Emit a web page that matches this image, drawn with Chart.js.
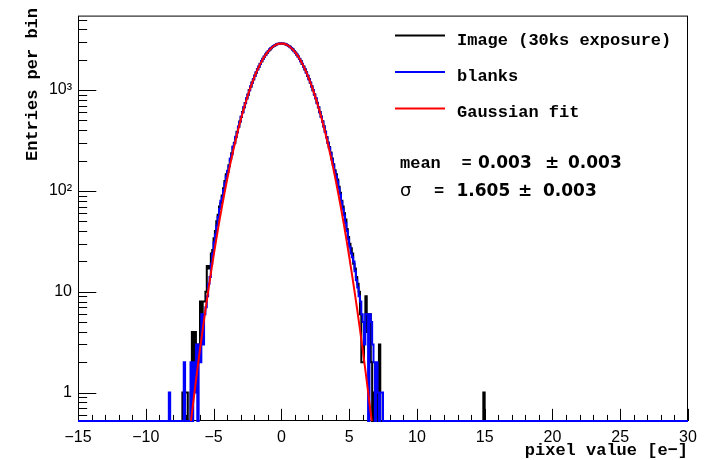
<!DOCTYPE html>
<html>
<head>
<meta charset="utf-8">
<script src="https://cdn.jsdelivr.net/npm/chart.js@4"></script>
<style>
  html, body { margin: 0; padding: 0; background: #ffffff; }
  #wrap { width: 720px; height: 460px; }
</style>
</head>
<body>
<div id="wrap"><canvas id="c" width="720" height="460"></canvas></div>
<script>
// ---------------- data ----------------
const binWidth = 0.1;
const histMin = -15;
const histMax = 30;
const coreStart = -7.5;   // lower edge of first listed bin

// Image (30ks exposure), bins from -7.5 to 7.7
const imageCounts = [
  0,0,1,0,1,1,0,0,1,4,2,4,3,2,3,8,5,8,8,10,18,17,18,24,26,
  34,40,50,58,70,76,90,106,125,146,154,180,206,236,272,300,340,386,432,488,
  540,605,672,745,826,900,1000,1080,1190,1275,1395,1485,1610,1700,1825,1920,2045,2135,2250,2335,
  2440,2515,2610,2665,2740,2780,2840,2860,2895,2890,
  2895,2880,2870,2825,2795,2730,2680,2595,2530,2430,2350,2240,2150,2030,1935,1810,1715,1595,1500,1380,
  1290,1180,1090,990,910,825,748,672,606,545,490,438,388,342,302,272,240,210,184,160,
  146,130,110,96,80,70,60,52,42,35,
  30,27,24,19,17,14,12,10,6,2,2,5,9,4,6,6,2,0,1,0,0,1,3,0,0,0,0
];
const imageExtraX = [14.9];
const imageExtraCounts = [1];

// blanks, bins from -7.5 to 7.7
const blanksCounts = [
  0,0,0,2,0,0,0,0,2,0,2,1,3,0,3,2,6,3,6,7,9,12,14,19,24,
  31,37,45,55,66,80,86,102,120,140,158,176,210,230,276,296,345,380,436,484,
  546,600,678,740,830,905,990,1090,1180,1290,1380,1500,1595,1715,1810,1935,2030,2150,2240,2350,
  2430,2530,2595,2680,2730,2795,2825,2870,2880,2905,
  2900,2890,2860,2840,2780,2740,2665,2610,2515,2440,2335,2250,2135,2045,1920,1825,1700,1610,1485,1395,
  1275,1190,1080,1000,900,832,740,680,598,540,484,432,384,338,298,268,236,205,180,156,
  140,124,106,92,78,66,57,48,40,33,
  28,24,22,20,16,13,11,9,8,6,5,3,6,6,0,6,5,3,2,0,2,1,0,1,1,0,0
];
const blanksExtraX = [-8.3];
const blanksExtraCounts = [1];

// Gaussian fit curve
const fitX = [-7.0,-6.8,-6.6,-6.4,-6.2,-6.0,-5.8,-5.6,-5.4,-5.2,-5.0,-4.8,-4.6,-4.4,-4.2,-4.0,-3.8,-3.6,-3.4,-3.2,
  -3.0,-2.8,-2.6,-2.4,-2.2,-2.0,-1.8,-1.6,-1.4,-1.2,-1.0,-0.8,-0.6,-0.4,-0.2,0,
  0.2,0.4,0.6,0.8,1.0,1.2,1.4,1.6,1.8,2.0,2.2,2.4,2.6,2.8,3.0,3.2,3.4,3.6,3.8,4.0,
  4.2,4.4,4.6,4.8,5.0,5.2,5.4,5.6,5.8,6.0,6.2,6.4,6.6,6.8,7.0];
const fitY = [0.216,0.37,0.62,1.02,1.67,2.68,4.23,6.59,10.1,15.2,22.6,33.1,47.6,67.6,94.3,129.6,176,234,306,397,
  505,633,780,948,1134,1337,1547,1765,1981,2193,2389,2561,2704,2811,2878,2900,
  2878,2811,2704,2561,2389,2193,1981,1765,1547,1337,1134,948,780,633,505,397,306,234,176,129.6,
  94.3,67.6,47.6,33.1,22.6,15.2,10.1,6.59,4.23,2.68,1.67,1.02,0.62,0.37,0.216];

// axes
const yMin = 0.523;
const yMax = 5470;
const yTickValues = [1, 10, 100, 1000];
const yTickLabels = ['1', '10', '10\u00B2', '10\u00B3'];
const xTickValues = [-15, -10, -5, 0, 5, 10, 15, 20, 25, 30];
const xTickLabels = ['\u221215', '\u221210', '\u22125', '0', '5', '10', '15', '20', '25', '30'];

const legendLabels = ['Image (30ks exposure)', 'blanks', 'Gaussian fit'];
const statsMean = ['0.003', '0.003'];
const statsSigma = ['1.605', '0.003'];

// ---------------- build ----------------
function buildHist(core, extraX, extraC) {
  const n = Math.round((histMax - histMin) / binWidth);
  const counts = new Array(n).fill(0);
  const off = Math.round((coreStart - histMin) / binWidth);
  core.forEach((c, i) => { counts[off + i] = c; });
  extraX.forEach((x, j) => { counts[Math.round((x - histMin) / binWidth)] = extraC[j]; });
  const pts = counts.map((c, i) => ({ x: histMin + i * binWidth, y: Math.max(c, yMin) }));
  pts.push({ x: histMax, y: Math.max(counts[n - 1], yMin) });
  return pts;
}

const FRAME = { left: 78, right: 688, top: 7, bottom: 421 };

const rootPlugin = {
  id: 'rootStyle',
  beforeDatasetsDraw(chart) {
    const ctx = chart.ctx;
    const a = chart.chartArea;
    const xs = chart.scales.x, ys = chart.scales.y;
    ctx.save();
    ctx.strokeStyle = '#000';
    ctx.lineWidth = 1;
    ctx.strokeRect(a.left + 0.5, a.top + 0.5, a.right - a.left - 1, a.bottom - a.top - 1);
    ctx.beginPath();
    // x ticks
    const xMajorLen = 0.03 * (a.bottom - a.top);
    for (let v = histMin; v <= histMax + 1e-9; v += 1) {
      const px = Math.round(xs.getPixelForValue(v)) + 0.5;
      const len = (Math.abs(v % 5) < 1e-9) ? xMajorLen : xMajorLen / 2;
      ctx.moveTo(px, a.bottom);
      ctx.lineTo(px, a.bottom - len);
    }
    // y ticks
    const yMajorLen = 0.03 * (a.right - a.left);
    for (let d = -1; d <= 3; d++) {
      for (let k = 1; k <= 9; k++) {
        const v = k * Math.pow(10, d);
        if (v < yMin || v > yMax) continue;
        const py = Math.round(ys.getPixelForValue(v)) + 0.5;
        const len = (k === 1) ? yMajorLen : yMajorLen / 2;
        ctx.moveTo(a.left, py);
        ctx.lineTo(a.left + len, py);
      }
    }
    ctx.stroke();
    ctx.restore();
  },
  afterDraw(chart) {
    const ctx = chart.ctx;
    ctx.save();
    ctx.fillStyle = '#000';
    // axis titles
    ctx.font = 'bold 17px "Liberation Mono"';
    ctx.textAlign = 'right';
    ctx.textBaseline = 'middle';
    ctx.fillText('pixel value [e\u2212]', 688, 451);
    ctx.save();
    ctx.translate(33, 8);
    ctx.rotate(-Math.PI / 2);
    ctx.textAlign = 'right';
    ctx.textBaseline = 'middle';
    ctx.fillText('Entries per bin', 0, 0);
    ctx.restore();

    // legend
    const colors = ['#000000', '#0000ff', '#ff0000'];
    const lineY = [35.5, 72, 108.5];
    const textY = [45, 81, 117];
    ctx.textAlign = 'left';
    ctx.textBaseline = 'alphabetic';
    for (let i = 0; i < 3; i++) {
      ctx.strokeStyle = colors[i];
      ctx.lineWidth = 2;
      ctx.beginPath();
      ctx.moveTo(395, lineY[i]);
      ctx.lineTo(445, lineY[i]);
      ctx.stroke();
      ctx.fillStyle = '#000';
      ctx.font = 'bold 17px "Liberation Mono"';
      ctx.fillText(legendLabels[i], 457, textY[i]);
    }

    // stats
    ctx.font = 'bold 17px "Liberation Mono"';
    ctx.fillText('mean', 400, 168);
    ctx.fillText('=', 461.5, 168);
    ctx.fillText('=', 434, 196);
    ctx.font = '18px "DejaVu Sans"';
    ctx.fillText('\u03C3', 400, 196);
    ctx.font = 'bold 17px "DejaVu Sans"';
    ctx.fillText(statsMean[0], 478, 168);
    ctx.fillText('\u00B1', 545, 168);
    ctx.fillText(statsMean[1], 568, 168);
    ctx.fillText(statsSigma[0], 456.5, 196);
    ctx.fillText('\u00B1', 518, 196);
    ctx.fillText(statsSigma[1], 543, 196);
    ctx.restore();
  }
};

new Chart(document.getElementById('c'), {
  type: 'scatter',
  data: {
    datasets: [
      {
        label: 'Gaussian fit',
        data: fitX.map((x, i) => ({ x: x, y: fitY[i] })),
        showLine: true,
        borderColor: '#ff0000',
        borderWidth: 2,
        pointRadius: 0,
        tension: 0,
        order: 0
      },
      {
        label: 'blanks',
        data: buildHist(blanksCounts, blanksExtraX, blanksExtraCounts),
        showLine: true,
        stepped: 'before',
        borderColor: '#0000ff',
        borderWidth: 2,
        pointRadius: 0,
        clip: { left: 1, right: 1, top: 0, bottom: 2 },
        order: 1
      },
      {
        label: 'Image (30ks exposure)',
        data: buildHist(imageCounts, imageExtraX, imageExtraCounts),
        showLine: true,
        stepped: 'before',
        borderColor: '#000000',
        borderWidth: 2,
        pointRadius: 0,
        clip: { left: 1, right: 1, top: 0, bottom: 2 },
        order: 2
      }
    ]
  },
  options: {
    responsive: false,
    animation: false,
    devicePixelRatio: 1,
    layout: { padding: { left: 0, right: 720 - FRAME.right, top: FRAME.top, bottom: 0 } },
    plugins: { legend: { display: false }, tooltip: { enabled: false } },
    scales: {
      x: {
        type: 'linear',
        min: histMin,
        max: histMax,
        grid: { display: false, drawTicks: false },
        border: { display: false },
        afterFit(s) { s.height = 460 - FRAME.bottom; },
        afterBuildTicks(s) { s.ticks = xTickValues.map(v => ({ value: v })); },
        ticks: {
          padding: 7,
          maxRotation: 0,
          autoSkip: false,
          color: '#000',
          font: { family: '"Liberation Sans"', size: 16 },
          callback(v) { const i = xTickValues.indexOf(v); return i >= 0 ? xTickLabels[i] : ''; }
        }
      },
      y: {
        type: 'logarithmic',
        min: yMin,
        max: yMax,
        grid: { display: false, drawTicks: false },
        border: { display: false },
        afterFit(s) { s.width = FRAME.left; },
        afterBuildTicks(s) { s.ticks = yTickValues.map(v => ({ value: v })); },
        ticks: {
          padding: 6,
          autoSkip: false,
          color: '#000',
          font: { family: '"Liberation Sans"', size: 16 },
          callback(v) { const i = yTickValues.indexOf(v); return i >= 0 ? yTickLabels[i] : ''; }
        }
      }
    }
  },
  plugins: [rootPlugin]
});
</script>
</body>
</html>
